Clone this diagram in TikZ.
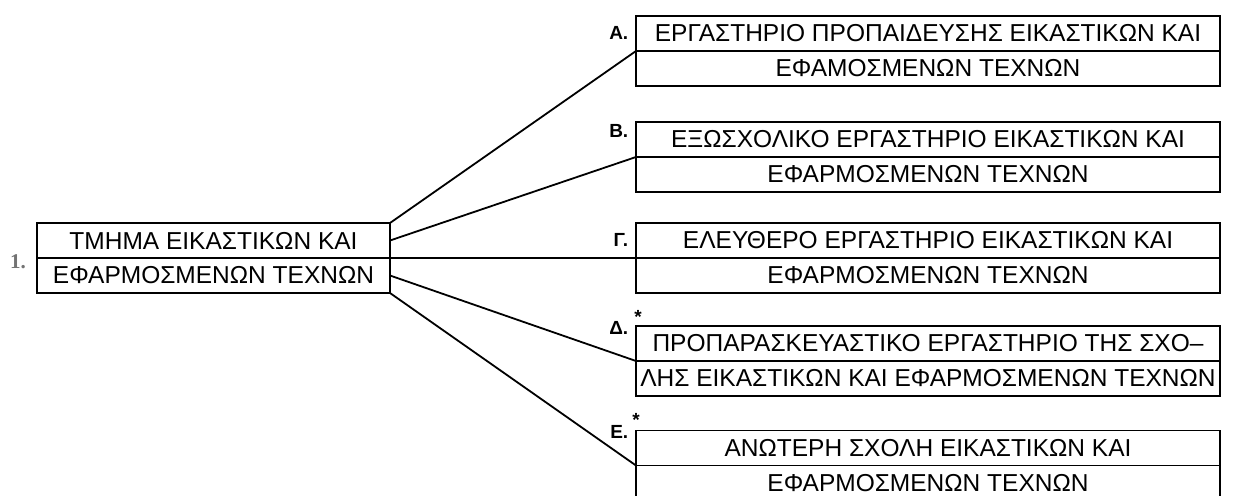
\documentclass[tikz,border=0pt]{standalone}
\usepackage{fontspec}
\setmainfont{Liberation Sans}
\newfontfamily\numfont{Liberation Serif}
\usetikzlibrary{positioning}

\begin{document}
\begin{tikzpicture}[x=1pt, y=-1pt, line width=1.5pt,
    half/.style={draw, rectangle, inner sep=0pt, outer sep=0pt, minimum height=35pt,
      font=\fontsize{24.5}{28}\selectfont},
    lhalf/.style={half, minimum width=353pt},
    rhalf/.style={half, minimum width=584pt},
    tag/.style={font=\fontsize{19}{22}\selectfont\bfseries, inner sep=0pt},
    link/.style={line width=1.8pt}]
  \useasboundingbox (0,0) rectangle (1236,495);
  \clip (0,0) rectangle (1236,495);

  % main department
  \node[lhalf] (m1) at (213.5,240.5) {ΤΜΗΜΑ ΕΙΚΑΣΤΙΚΩΝ ΚΑΙ};
  \node[lhalf, below=0pt of m1] (m2) {ΕΦΑΡΜΟΣΜΕΝΩΝ ΤΕΧΝΩΝ};
  \node[font=\numfont\fontsize{21}{24}\selectfont\bfseries, text=black!55] (num) at (18,262) {1.};

  % workshops
  \node[rhalf] (a1) at (928,33.5) {ΕΡΓΑΣΤΗΡΙΟ ΠΡΟΠΑΙΔΕΥΣΗΣ ΕΙΚΑΣΤΙΚΩΝ ΚΑΙ};
  \node[rhalf, below=0pt of a1] (a2) {ΕΦΑΜΟΣΜΕΝΩΝ ΤΕΧΝΩΝ};
  \node[rhalf] (b1) at (928,139.5) {ΕΞΩΣΧΟΛΙΚΟ ΕΡΓΑΣΤΗΡΙΟ ΕΙΚΑΣΤΙΚΩΝ ΚΑΙ};
  \node[rhalf, below=0pt of b1] (b2) {ΕΦΑΡΜΟΣΜΕΝΩΝ ΤΕΧΝΩΝ};
  \node[rhalf] (g1) at (928,240.5) {ΕΛΕΥΘΕΡΟ ΕΡΓΑΣΤΗΡΙΟ ΕΙΚΑΣΤΙΚΩΝ ΚΑΙ};
  \node[rhalf, below=0pt of g1] (g2) {ΕΦΑΡΜΟΣΜΕΝΩΝ ΤΕΧΝΩΝ};
  \node[rhalf] (d1) at (928,343.5) {ΠΡΟΠΑΡΑΣΚΕΥΑΣΤΙΚΟ ΕΡΓΑΣΤΗΡΙΟ ΤΗΣ ΣΧΟ–};
  \node[rhalf, below=0pt of d1] (d2) {ΛΗΣ ΕΙΚΑΣΤΙΚΩΝ ΚΑΙ ΕΦΑΡΜΟΣΜΕΝΩΝ ΤΕΧΝΩΝ};
  \node[rhalf] (e1) at (928,448) {ΑΝΩΤΕΡΗ ΣΧΟΛΗ ΕΙΚΑΣΤΙΚΩΝ ΚΑΙ};
  \node[rhalf, below=0pt of e1] (e2) {ΕΦΑΡΜΟΣΜΕΝΩΝ ΤΕΧΝΩΝ};

  % letters
  \node[tag, anchor=east] (ta) at (629,33) {Α.};
  \node[tag, anchor=east] (tb) at (629,131) {Β.};
  \node[tag, anchor=east] (tg) at (629,240) {Γ.};
  \node[tag, anchor=east] (td) at (629,328) {Δ.};
  \node[tag, anchor=east] (te) at (629,432) {Ε.};
  \node[tag] (sd) at (638,317) {*};
  \node[tag] (se) at (636,420) {*};

  \draw[link] (m1.north east) -- (a2.north west);
  \draw[link] (m1.east) -- (b2.north west);
  \draw[link] (m1.south east) -- (g1.south west);
  \draw[link] (m2.east) -- (d2.north west);
  \draw[link] (m2.south east) -- (e2.north west);
\end{tikzpicture}
\end{document}
